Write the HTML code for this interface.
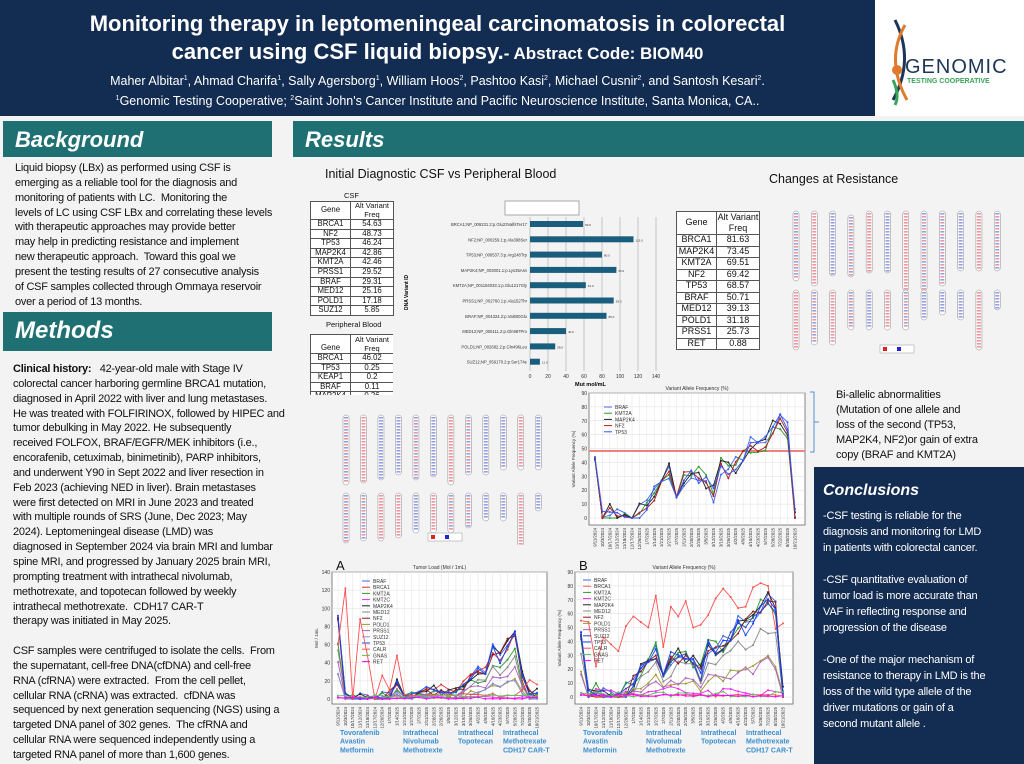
<!DOCTYPE html>
<html><head><meta charset="utf-8">
<style>
*{margin:0;padding:0;box-sizing:border-box}
body{width:1024px;height:764px;position:relative;overflow:hidden;background:#f3f3f3;font-family:"Liberation Sans",sans-serif;color:#111}
.a{position:absolute}
.hdr{left:0;top:0;width:875px;height:116px;background:#132c52;color:#fff;text-align:center}
.bar{background:#1f7072;color:#fff;font-weight:bold;font-style:italic}
.txt{font-size:11px;line-height:14.85px;letter-spacing:-0.25px;white-space:nowrap}
table{border-collapse:collapse;font-size:8px;text-align:center;background:#fff;table-layout:fixed}
td{border:1px solid #555;padding:0;line-height:9.6px;height:10.6px;white-space:nowrap;overflow:hidden}
.sm td{height:9.6px;line-height:8.6px;font-size:7.8px}
</style></head><body>
<div class="a hdr">
 <div class="a" style="left:0;width:875px;top:10px;font-size:22px;font-weight:bold;line-height:28px">Monitoring therapy in leptomeningeal carcinomatosis in colorectal<br>cancer using CSF liquid biopsy.<span style="font-size:17px">- Abstract Code: BIOM40</span></div>
 <div class="a" style="left:0;width:875px;top:70px;font-size:12.5px;line-height:18px">Maher Albitar<sup style="font-size:7px">1</sup>, Ahmad Charifa<sup style="font-size:7px">1</sup>, Sally Agersborg<sup style="font-size:7px">1</sup>, William Hoos<sup style="font-size:7px">2</sup>, Pashtoo Kasi<sup style="font-size:7px">2</sup>, Michael Cusnir<sup style="font-size:7px">2</sup>, and Santosh Kesari<sup style="font-size:7px">2</sup>.<br><sup style="font-size:7px">1</sup>Genomic Testing Cooperative; <sup style="font-size:7px">2</sup>Saint John's Cancer Institute and Pacific Neuroscience Institute, Santa Monica, CA..</div>
</div>
<div class="a" style="left:875px;top:0;width:149px;height:116px;background:#fff">
 <svg width="149" height="116"><path d="M20 20 Q40 60 18 100" stroke="#1d3557" stroke-width="3" fill="none"/><path d="M30 25 Q10 60 32 100" stroke="#e07a2c" stroke-width="3" fill="none"/><circle cx="22" cy="70" r="5" fill="#e07a2c"/><path d="M18 80 Q25 95 20 105" stroke="#3aa35a" stroke-width="3" fill="none"/></svg>
 <div class="a" style="left:30px;top:56px;font-size:20px;color:#1d3557;letter-spacing:1px">GENOMIC</div>
 <div class="a" style="left:32px;top:78px;font-size:7px;color:#3aa35a;font-weight:bold">TESTING COOPERATIVE</div>
</div>
<div class="a bar" style="left:3px;top:121px;width:269px;height:36px;font-size:22px;padding:6px 0 0 12px">Background</div>
<div class="a bar" style="left:293px;top:121px;width:731px;height:36px;font-size:22px;padding:6px 0 0 12px">Results</div>
<div class="a bar" style="left:3px;top:312px;width:269px;height:39px;font-size:24px;padding:5px 0 0 12px">Methods</div>
<div class="a txt" style="left:15px;top:161px">Liquid biopsy (LBx) as performed using CSF is<br>emerging as a reliable tool for the diagnosis and<br>monitoring of patients with LC.&nbsp; Monitoring the<br>levels of LC using CSF LBx and correlating these levels<br>with therapeutic approaches may provide better<br>may help in predicting resistance and implement<br>new therapeutic approach.&nbsp; Toward this goal we<br>present the testing results of 27 consecutive analysis<br>of CSF samples collected through Ommaya reservoir<br>over a period of 13 months.</div>
<div class="a txt" style="left:13px;top:362px"><b>Clinical history:</b>&nbsp;&nbsp; 42-year-old male with Stage IV<br>colorectal cancer harboring germline BRCA1 mutation,<br>diagnosed in April 2022 with liver and lung metastases.<br>He was treated with FOLFIRINOX, followed by HIPEC and<br>tumor debulking in May 2022. He subsequently<br>received FOLFOX, BRAF/EGFR/MEK inhibitors (i.e.,<br>encorafenib, cetuximab, binimetinib), PARP inhibitors,<br>and underwent Y90 in Sept 2022 and liver resection in<br>Feb 2023 (achieving NED in liver). Brain metastases<br>were first detected on MRI in June 2023 and treated<br>with multiple rounds of SRS (June, Dec 2023; May<br>2024). Leptomeningeal disease (LMD) was<br>diagnosed in September 2024 via brain MRI and lumbar<br>spine MRI, and progressed by January 2025 brain MRI,<br>prompting treatment with intrathecal nivolumab,<br>methotrexate, and topotecan followed by weekly<br>intrathecal methotrexate.&nbsp; CDH17 CAR-T<br>therapy was initiated in May 2025.<br><br>CSF samples were centrifuged to isolate the cells.&nbsp; From<br>the supernatant, cell-free DNA(cfDNA) and cell-free<br>RNA (cfRNA) were extracted.&nbsp; From the cell pellet,<br>cellular RNA (cRNA) was extracted.&nbsp; cfDNA was<br>sequenced by next generation sequencing (NGS) using a<br>targeted DNA panel of 302 genes.&nbsp; The cfRNA and<br>cellular RNA were sequenced independently using a<br>targeted RNA panel of more than 1,600 genes.</div>

<div class="a" style="left:325px;top:167px;font-size:12.5px">Initial Diagnostic CSF vs Peripheral Blood</div>
<div class="a" style="left:769px;top:172px;font-size:12.5px">Changes at Resistance</div>
<div class="a" style="left:344px;top:191px;font-size:7.5px">CSF</div>
<table class="a sm" style="left:310px;top:201px;width:83px">
<col style="width:40px"><col style="width:43px">
<tr><td style="height:18px">Gene</td><td style="height:18px;line-height:8.5px;font-size:7.5px">Alt Variant<br>Freq</td></tr>
<tr><td>BRCA1</td><td>54.63</td></tr><tr><td>NF2</td><td>48.73</td></tr><tr><td>TP53</td><td>46.24</td></tr><tr><td>MAP2K4</td><td>42.86</td></tr><tr><td>KMT2A</td><td>42.46</td></tr><tr><td>PRSS1</td><td>29.52</td></tr><tr><td>BRAF</td><td>29.31</td></tr><tr><td>MED12</td><td>25.16</td></tr><tr><td>POLD1</td><td>17.18</td></tr><tr><td>SUZ12</td><td>5.85</td></tr></table>
<div class="a" style="left:326px;top:320px;font-size:7.5px">Peripheral Blood</div>
<div class="a" style="left:310px;top:334px;width:83px;height:61px;overflow:hidden"><table class="sm" style="width:83px">
<col style="width:40px"><col style="width:43px">
<tr><td style="height:19px;vertical-align:bottom">Gene</td><td style="height:19px;line-height:9px;font-size:7.5px">Alt Variant<br>Freq</td></tr>
<tr><td>BRCA1</td><td>46.02</td></tr><tr><td>TP53</td><td>0.25</td></tr><tr><td>KEAP1</td><td>0.2</td></tr><tr><td>BRAF</td><td>0.11</td></tr><tr><td>MAP2K4</td><td>0.26</td></tr></table></div>
<table class="a" style="left:676px;top:211px;width:83px;font-size:9px">
<col style="width:40px"><col style="width:43px">
<tr><td style="height:23px">Gene</td><td style="height:23px;line-height:11px">Alt Variant<br>Freq</td></tr>
<tr><td style="height:11.5px">BRCA1</td><td>81.63</td></tr><tr><td style="height:11.5px">MAP2K4</td><td>73.45</td></tr><tr><td style="height:11.5px">KMT2A</td><td>69.51</td></tr><tr><td style="height:11.5px">NF2</td><td>69.42</td></tr><tr><td style="height:11.5px">TP53</td><td>68.57</td></tr><tr><td style="height:11.5px">BRAF</td><td>50.71</td></tr><tr><td style="height:11.5px">MED12</td><td>39.13</td></tr><tr><td style="height:11.5px">POLD1</td><td>31.18</td></tr><tr><td style="height:11.5px">PRSS1</td><td>25.73</td></tr><tr><td style="height:11.5px">RET</td><td>0.88</td></tr></table>

<svg class="a" style="left:400px;top:195px" width="265" height="195" font-family="Liberation Sans" font-size="4">
<rect x="105" y="6" width="74" height="14" fill="#fff" stroke="#aaa"/>
<g stroke="#999" stroke-width="0.5"><line x1="130" y1="22" x2="130" y2="176"/><line x1="148" y1="22" x2="148" y2="176"/><line x1="166" y1="22" x2="166" y2="176"/><line x1="184" y1="22" x2="184" y2="176"/><line x1="202" y1="22" x2="202" y2="176"/><line x1="220" y1="22" x2="220" y2="176"/><line x1="238" y1="22" x2="238" y2="176"/><line x1="256" y1="22" x2="256" y2="176"/></g>
<g fill="#1a5e7e" id="bars"></g>
<g font-size="5" fill="#333" id="barlbl"></g>
<text x="-115" y="8" transform="rotate(-90)" font-size="5" font-weight="bold">DNA Variant ID</text>
<text x="175" y="191" font-size="5.5" font-weight="bold">Mut mol/mL</text>
</svg>

<svg id="k1" class="a" style="left:785px;top:205px" width="225" height="150"></svg>
<svg id="k2" class="a" style="left:335px;top:405px" width="215" height="140"></svg>

<svg id="c1" class="a" style="left:560px;top:382px" width="255" height="178" font-family="Liberation Sans"></svg>
<svg id="cA" class="a" style="left:310px;top:558px" width="245" height="200" font-family="Liberation Sans"></svg>
<svg id="cB" class="a" style="left:553px;top:558px" width="250" height="200" font-family="Liberation Sans"></svg>

<svg class="a" style="left:808px;top:390px" width="12" height="65"><path d="M2 2 H6 V62 H2 M6 32 H11" stroke="#5b8fd0" fill="none"/></svg>
<div class="a" style="left:836px;top:388px;font-size:11px;line-height:15px;letter-spacing:-0.2px">Bi-allelic abnormalities<br>(Mutation of one allele and<br>loss of the second (TP53,<br>MAP2K4, NF2)or gain of extra<br>copy (BRAF and KMT2A)</div>

<div class="a" style="left:814px;top:467px;width:210px;height:297px;background:#132c52;color:#fff">
 <div class="a" style="left:9px;top:15px;font-size:16px;font-weight:bold;font-style:italic">Conclusions</div>
 <div class="a" style="left:9px;top:41px;font-size:11px;line-height:16px;white-space:nowrap;letter-spacing:-0.2px">-CSF testing is reliable for the<br>diagnosis and monitoring for LMD<br>in patients with colorectal cancer.<br><br>-CSF quantitative evaluation of<br>tumor load is more accurate than<br>VAF in reflecting response and<br>progression of the disease<br><br>-One of the major mechanism of<br>resistance to therapy in LMD is the<br>loss of the wild type allele of the<br>driver mutations or gain of a<br>second mutant allele .</div>
</div>

<script>
var NS="http://www.w3.org/2000/svg";
function el(p,t,a,txt){var e=document.createElementNS(NS,t);for(var k in a)e.setAttribute(k,a[k]);if(txt!=null)e.textContent=txt;p.appendChild(e);return e;}
(function(){var names=["BRCA1;NP_009231.2:p.Glu23ValfsTer17","NF2;NP_000259.1:p.Ala398Ser","TP53;NP_000537.3:p.Arg248Trp","MAP2K4;NP_003001.1:p.Lys35Asn","KMT2A;NP_001184033.1:p.Glu1217Gly","PRSS1;NP_002760.1:p.Ala152Thr","BRAF;NP_004324.2:p.Val600Glu","MED12;NP_005111.2:p.Gln987Pro","POLD1;NP_002682.2:p.Gln496Leu","SUZ12;NP_056170.2:p.Ser174e"];
var v=[59,115,80,96,62,93,85,40,28,11];var b=document.getElementById("bars"),l=document.getElementById("barlbl");
for(var i=0;i<10;i++){var y=26+i*15.3;el(b,"rect",{x:130,y:y,width:v[i]*0.9,height:6});el(l,"text",{x:127,y:y+5,"text-anchor":"end","font-size":4.2},names[i]);el(l,"text",{x:132+v[i]*0.9,y:y+5,"font-size":3},v[i]+".0");}
for(var j=0;j<=7;j++)el(l,"text",{x:130+j*18,y:183,"text-anchor":"middle"},j*20);})();
function kary(id,rows,w){var s=document.getElementById(id);rows.forEach(function(r,ri){r.forEach(function(c,ci){var x=8+ci*(w/12.3),y=c[2];var h=c[0];el(s,"rect",{x:x,y:y,width:6,height:h,rx:3,fill:"#fff",stroke:"#888","stroke-width":0.5});
for(var k=2;k<h-2;k+=3){var col=c[1]=="r"?"#e05060":c[1]=="b"?"#5060d0":(k%2?"#e05060":"#5060d0");el(s,"rect",{x:x+1,y:y+k,width:4,height:1.6,fill:col,opacity:0.6});}});});}
kary("k1",[[[70,"m",6],[75,"r",6],[65,"b",6],[62,"m",10],[62,"r",6],[62,"b",6],[80,"r",6],[80,"m",6],[75,"m",6],[60,"b",6],[60,"r",6],[60,"m",6]],[[60,"r",85],[55,"m",85],[55,"r",85],[40,"m",85],[40,"b",85],[40,"r",85],[40,"m",85],[30,"b",85],[25,"b",85],[30,"b",85],[60,"r",85],[20,"b",85]]],225);
kary("k2",[[[70,"m",10],[68,"r",10],[65,"b",10],[60,"b",10],[65,"m",10],[62,"b",10],[70,"r",10],[60,"m",10],[60,"b",10],[55,"b",10],[55,"r",10],[55,"b",10]],[[50,"m",88],[48,"m",88],[48,"r",88],[45,"r",88],[40,"b",88],[40,"r",88],[40,"m",88],[35,"m",88],[28,"b",88],[28,"b",88],[60,"r",88],[18,"b",88]]],215);
(function(){var l=el(document.getElementById("k1"),"g",{});el(l,"rect",{x:95,y:140,width:34,height:8,fill:"#fff",stroke:"#999","stroke-width":0.5});el(l,"rect",{x:98,y:142,width:4,height:4,fill:"#d22"});el(l,"rect",{x:112,y:142,width:4,height:4,fill:"#22d"});
var m=el(document.getElementById("k2"),"g",{});el(m,"rect",{x:93,y:128,width:34,height:8,fill:"#fff",stroke:"#999","stroke-width":0.5});el(m,"rect",{x:96,y:130,width:4,height:4,fill:"#d22"});el(m,"rect",{x:110,y:130,width:4,height:4,fill:"#22d"});})();

var dates=["9/11/2024","10/3/2024","10/17/2024","11/12/2024","11/18/2024","12/17/2024","12/26/2024","1/7/2025","1/14/2025","1/21/2025","1/27/2025","2/7/2025","2/11/2025","2/20/2025","2/26/2025","3/5/2025","3/12/2025","3/19/2025","3/26/2025","4/2/2025","4/9/2025","4/16/2025","4/23/2025","5/7/2025","5/28/2025","7/22/2025","8/20/2025","10/21/2025"];
function chart(id,o){var s=document.getElementById(id);var L=o.L,T=o.T,W=o.W,H=o.H,n=o.n;
el(s,"rect",{x:L,y:T,width:W,height:H,fill:"#fff",stroke:"#666","stroke-width":0.8});
for(var i=0;i<=o.ny;i++){var y=o.y0-(o.y0-T-o.pad)*i/o.ny;el(s,"line",{x1:L,x2:L+W,y1:y,y2:y,stroke:"#ddd","stroke-width":0.5});el(s,"text",{x:L-2,y:y+2,"font-size":5,"text-anchor":"end",fill:"#333"},i*o.step);}
function X(i){return L+6+i*(W-16)/(n-1);}
for(var i=0;i<n;i++){el(s,"line",{x1:X(i),x2:X(i),y1:T,y2:T+H,stroke:"#e3e3e3","stroke-width":0.5});el(s,"text",{x:0,y:0,"font-size":4.3,fill:"#333","text-anchor":"end",transform:"translate("+(X(i)+1.5)+","+(T+H+3)+") rotate(-90)"},dates[i%dates.length]);}
el(s,"text",{x:L+W/2,y:T-3,"font-size":5,"text-anchor":"middle",fill:"#333"},o.title);
el(s,"text",{x:0,y:0,"font-size":4.5,"text-anchor":"middle",fill:"#333",transform:"translate("+(L-14)+","+(T+H/2)+") rotate(-90)"},o.ylab);
if(o.hl)el(s,"line",{x1:L,x2:L+W,y1:o.hl,y2:o.hl,stroke:"#f08080","stroke-width":2});
var sc=(o.y0-T-o.pad)/(o.ny*o.step);
o.series.forEach(function(se,k){var pts=se.d.map(function(v,i){return X(i)+","+(o.y0-v*sc).toFixed(1)}).join(" ");el(s,"polyline",{points:pts,fill:"none",stroke:se.c,"stroke-width":0.9});se.d.forEach(function(v,i){el(s,"circle",{cx:X(i),cy:o.y0-v*sc,r:1,fill:se.c});});
var ly=o.lT+k*o.lh;el(s,"line",{x1:o.lx,x2:o.lx+8,y1:ly,y2:ly,stroke:se.c,"stroke-width":1});el(s,"text",{x:o.lx+11,y:ly+2,"font-size":5,fill:"#333"},se.n);});
if(o.letter)el(s,"text",{x:L+4,y:T-2,"font-size":13,fill:"#111"},o.letter);
if(o.th){o.th.forEach(function(t){t[2].forEach(function(line,li){el(s,"text",{x:t[0],y:t[1]+li*8.7,"font-size":7,"font-weight":"bold",fill:"#3a8ed0"},line);});});}
}
function mk(base,amp,seed){var r=seed;return base.map(function(v,i){r=(r*9301+49297)%233280;var x=v+(r/233280-0.5)*amp;return Math.max(0,x);});}
var vb=[45,0,4,0,0,0,4,10,17,27,33,12,27,30,30,28,18,38,35,37,45,52,50,55,66,70,62,1,11];
vb=vb.slice(0,28);
chart("c1",{L:29,T:11,W:216,H:132,y0:136,pad:0,ny:9,step:10,n:28,title:"Variant Allele Frequency (%)",ylab:"Variant Allele Frequency (%)",hl:69,lx:44,lT:25,lh:6.2,
series:[{n:"BRAF",c:"#4466ee",d:mk(vb,14,1)},{n:"KMT2A",c:"#2a9a2a",d:mk(vb,14,2)},{n:"MAP2K4",c:"#222",d:mk(vb,14,3)},{n:"NF2",c:"#b02020",d:mk(vb,14,4)},{n:"TP53",c:"#3355ff",d:mk(vb,12,5)}]});
var tb=[90,1,1,1,1,1,3,4,15,4,4,4,8,10,10,8,8,15,25,30,32,55,45,60,75,25,3,5];
chart("cA",{L:22,T:14,W:215,H:132,y0:141,pad:0,ny:7,step:20,n:28,title:"Tumor Load (Mol / 1mL)",ylab:"Mol / 1mL",lx:52,lT:23,lh:6.2,letter:"A",
th:[[30,177,["Tovorafenib","Avastin","Metformin"]],[93,177,["Intrathecal","Nivolumab","Methotrexte"]],[148,177,["Intrathecal","Topotecan"]],[193,177,["Intrathecal","Methotrexate","CDH17 CAR-T"]]],
series:[{n:"BRAF",c:"#4466ee",d:mk(tb,12,1)},{n:"BRCA1",c:"#e03030",d:mk(tb,12,2)},{n:"KMT2A",c:"#2a9a2a",d:mk(tb.map(function(v){return v*0.7}),10,3)},{n:"KMT2C",c:"#ee22ee",d:mk(tb.map(function(v){return 2}),3,4)},{n:"MAP2K4",c:"#222",d:mk(tb,14,5)},{n:"MED12",c:"#888",d:mk(tb.map(function(v){return v*0.6}),8,6)},{n:"NF2",c:"#8b1a1a",d:mk(tb,14,7)},{n:"POLD1",c:"#9a9a30",d:mk(tb.map(function(v){return v*0.3}),6,8)},{n:"PRSS1",c:"#b060c0",d:mk(tb.map(function(v){return v*0.45}),6,9)},{n:"SUZ12",c:"#8888ee",d:mk(tb.map(function(v){return v*0.3}),6,10)},{n:"TP53",c:"#1144ff",d:mk(tb,12,11)},{n:"CALR",c:"#ff5050",d:[60,122,0,88,48,0,26,10,48,5,4,4,4,5,4,5,4,6,5,5,4,6,2,4,4,10,21,16]},{n:"GNAS",c:"#60c060",d:mk(tb.map(function(v){return 3}),3,12)},{n:"RET",c:"#ff00ff",d:mk(tb.map(function(v){return 1}),2,13)}]});
var rb=[55,54,22,43,38,33,51,58,54,50,73,36,65,58,69,50,52,59,71,78,72,64,65,79,82,80,49,53];
chart("cB",{L:22,T:14,W:218,H:132,y0:139,pad:0,ny:9,step:10,n:28,title:"Variant Allele Frequency (%)",ylab:"Variant Allele Frequency (%)",lx:30,lT:22,lh:6.2,letter:"B",
th:[[30,177,["Tovorafenib","Avastin","Metformin"]],[93,177,["Intrathecal","Nivolumab","Methotrexte"]],[148,177,["Intrathecal","Topotecan"]],[193,177,["Intrathecal","Methotrexate","CDH17 CAR-T"]]],
series:[{n:"BRAF",c:"#4466ee",d:mk(vb,14,1)},{n:"BRCA1",c:"#ff5050",d:rb},{n:"KMT2A",c:"#2a9a2a",d:mk(vb,14,3)},{n:"KMT2C",c:"#ee22ee",d:mk(vb.map(function(){return 4}),8,4)},{n:"MAP2K4",c:"#222",d:mk(vb,14,5)},{n:"MED12",c:"#888",d:mk(vb.map(function(v){return v*0.7}),10,6)},{n:"NF2",c:"#8b1a1a",d:mk(vb,14,7)},{n:"POLD1",c:"#9a9a30",d:mk(vb.map(function(v){return v*0.4}),8,8)},{n:"PRSS1",c:"#b060c0",d:mk(vb.map(function(v){return v*0.35}),8,9)},{n:"SUZ12",c:"#3344aa",d:mk(vb,12,10)},{n:"TP53",c:"#1144ff",d:mk(vb,12,11)},{n:"CALR",c:"#ff5050",d:mk(vb.map(function(){return 1}),2,12)},{n:"GNAS",c:"#60c060",d:mk(vb.map(function(){return 2}),4,13)},{n:"RET",c:"#ff00ff",d:mk(vb.map(function(){return 1}),2,14)}]});
</script>
</body></html>
